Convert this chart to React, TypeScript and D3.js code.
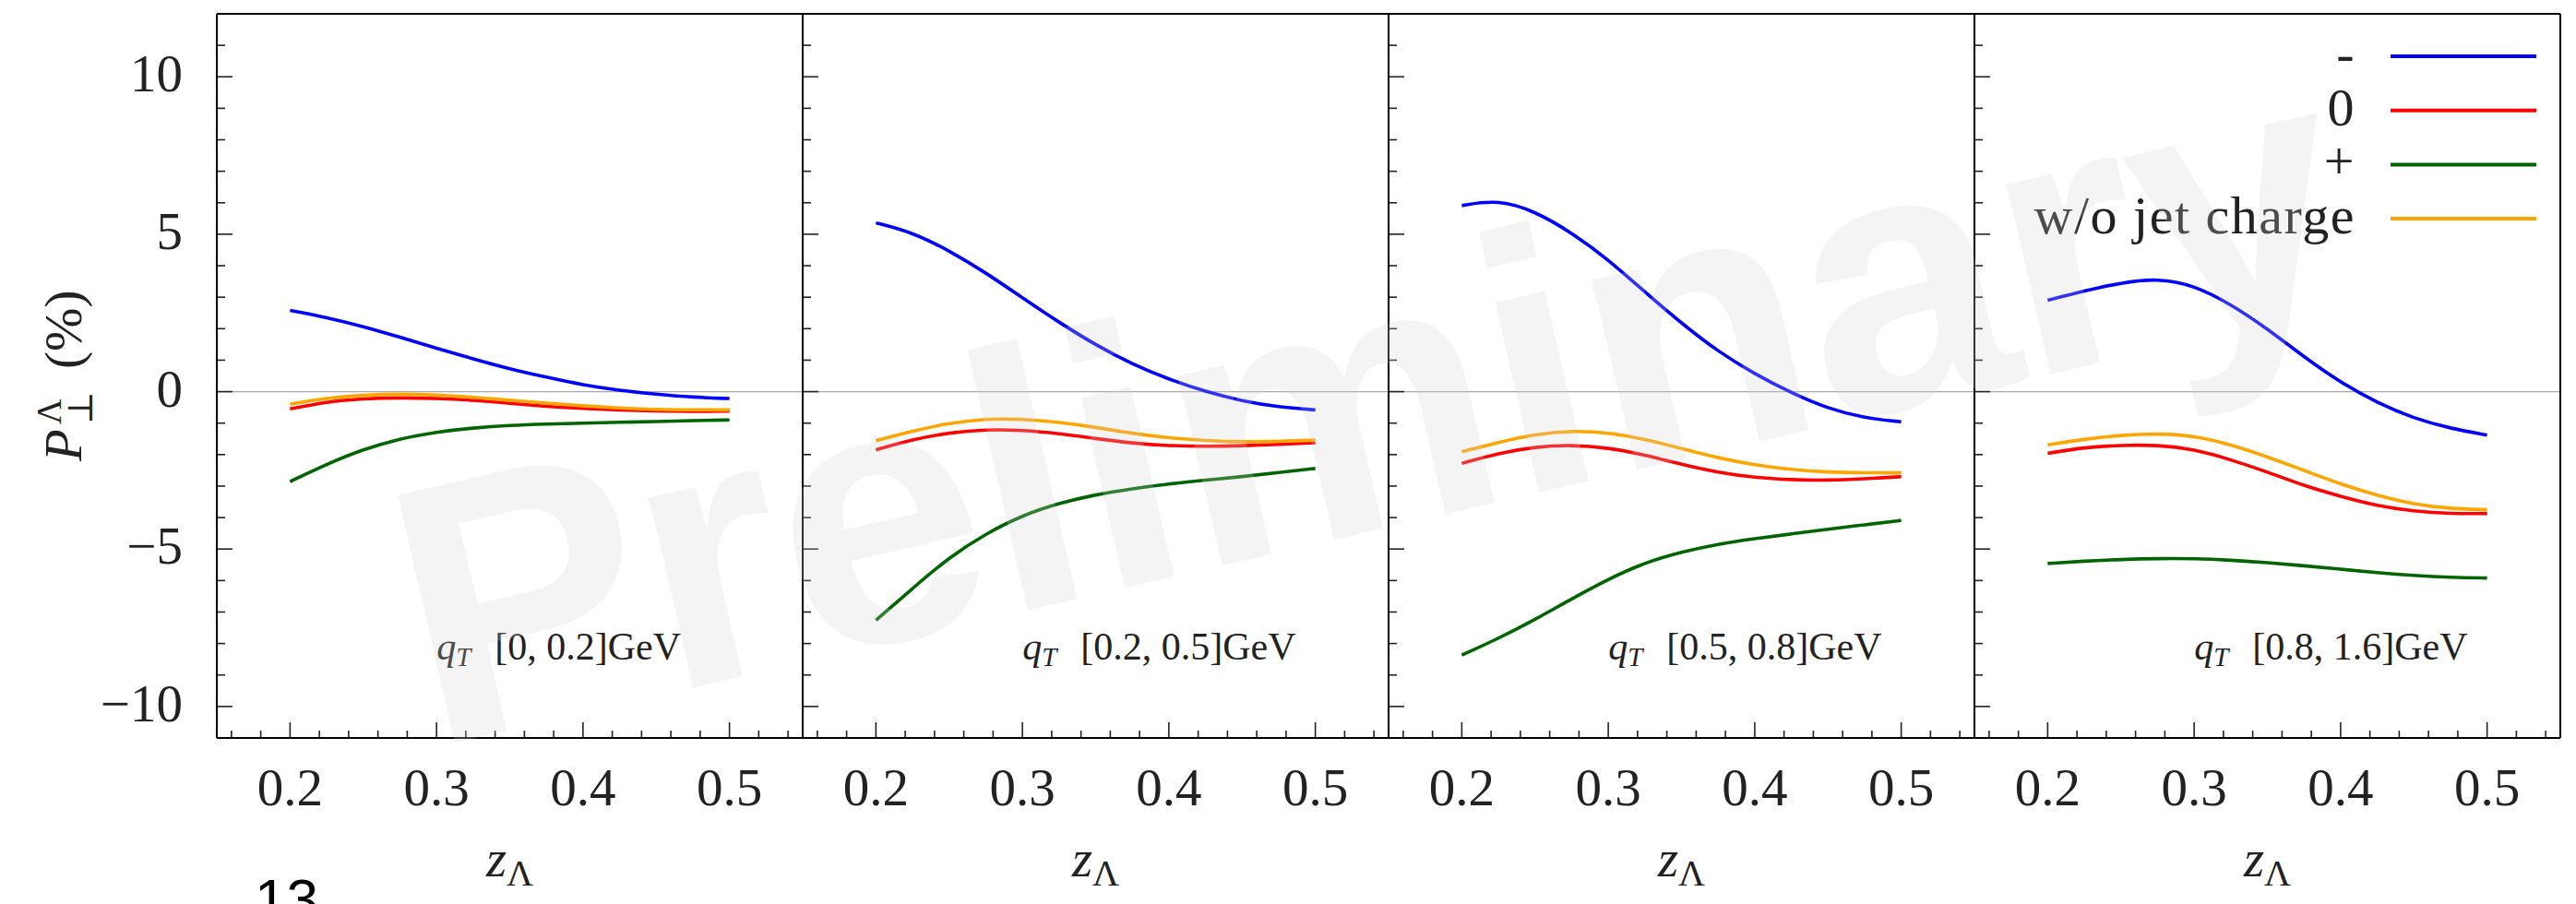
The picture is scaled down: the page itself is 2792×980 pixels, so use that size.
import React from 'react'
import * as d3 from 'd3'

// z_Lambda grid shared by all panels
const zGrid = [0.2, 0.225, 0.25, 0.275, 0.3, 0.325, 0.35, 0.375, 0.4, 0.425, 0.45, 0.475, 0.5]

const qtBins = ['[0, 0.2]', '[0.2, 0.5]', '[0.5, 0.8]', '[0.8, 1.6]']

// jet charge "-"
const negCharge = [
  [2.58, 2.36, 2.07, 1.73, 1.38, 1.04, 0.72, 0.46, 0.21, 0.04, -0.08, -0.18, -0.22],
  [5.36, 5.06, 4.48, 3.78, 2.98, 2.2, 1.48, 0.87, 0.39, 0.0, -0.3, -0.49, -0.58],
  [5.91, 6.1, 5.73, 5.05, 4.2, 3.16, 2.17, 1.27, 0.56, -0.04, -0.54, -0.84, -0.96],
  [2.9, 3.2, 3.46, 3.6, 3.38, 2.78, 2.0, 1.1, 0.29, -0.36, -0.85, -1.17, -1.38],
]
// jet charge "0"
const zeroCharge = [
  [-0.55, -0.32, -0.22, -0.19, -0.21, -0.27, -0.37, -0.47, -0.54, -0.58, -0.62, -0.63, -0.62],
  [-1.85, -1.52, -1.3, -1.2, -1.22, -1.33, -1.49, -1.64, -1.72, -1.74, -1.72, -1.68, -1.62],
  [-2.28, -1.96, -1.75, -1.69, -1.78, -2.01, -2.31, -2.57, -2.73, -2.8, -2.82, -2.77, -2.7],
  [-1.96, -1.77, -1.7, -1.69, -1.83, -2.16, -2.55, -2.99, -3.33, -3.63, -3.8, -3.88, -3.87],
]
// jet charge "+"
const posCharge = [
  [-2.86, -2.3, -1.83, -1.49, -1.28, -1.15, -1.07, -1.03, -1.0, -0.97, -0.95, -0.92, -0.9],
  [-7.26, -6.25, -5.26, -4.51, -3.93, -3.54, -3.27, -3.08, -2.93, -2.81, -2.7, -2.57, -2.44],
  [-8.37, -7.84, -7.24, -6.58, -5.95, -5.43, -5.09, -4.84, -4.67, -4.52, -4.37, -4.23, -4.09],
  [-5.46, -5.38, -5.33, -5.3, -5.3, -5.35, -5.43, -5.53, -5.64, -5.75, -5.84, -5.9, -5.92],
]
// without jet charge
const noJetCharge = [
  [-0.4, -0.2, -0.11, -0.07, -0.1, -0.18, -0.27, -0.37, -0.45, -0.52, -0.57, -0.58, -0.58],
  [-1.56, -1.25, -1.0, -0.86, -0.87, -0.97, -1.13, -1.33, -1.47, -1.56, -1.6, -1.58, -1.54],
  [-1.91, -1.61, -1.35, -1.24, -1.3, -1.51, -1.81, -2.11, -2.33, -2.48, -2.56, -2.58, -2.58],
  [-1.69, -1.51, -1.38, -1.33, -1.4, -1.68, -2.07, -2.5, -2.94, -3.3, -3.58, -3.72, -3.75],
]

const seriesList = [
  { label: '-', color: '#0000ff', values: negCharge },
  { label: '0', color: '#ff0000', values: zeroCharge },
  { label: '+', color: '#006400', values: posCharge },
  { label: 'w/o jet charge', color: '#ffa500', values: noJetCharge },
]

const xTickLabels = [0.2, 0.3, 0.4, 0.5]
const yTickLabels = [-10, -5, 0, 5, 10]

const W = 2792
const H = 980
const left = 235
const top = 15
const bottom = 800
const panelW = 635
const serif = "'Liberation Serif', 'DejaVu Serif', serif"

export default function App() {
  const y = d3.scaleLinear().domain([-11, 12]).range([bottom, top])
  const right = left + panelW * qtBins.length

  const yMinor = d3.range(-10, 12, 1)
  const xMinor = d3.range(0.16, 0.55, 0.02).map(v => +v.toFixed(2))

  return (
    <svg width={W} height={H} style={{ position: 'absolute', left: 0, top: 0, background: '#fff' }}>
      <rect width={W} height={H} fill="#fff" />

      {/* zero line */}
      <line x1={left} x2={right} y1={y(0)} y2={y(0)} stroke="#a8a8a8" strokeWidth={1.3} />

      {qtBins.map((bin, i) => {
        const x0 = left + i * panelW
        const x = d3.scaleLinear().domain([0.15, 0.55]).range([x0, x0 + panelW])
        const line = d3.line<number>()
          .x((_, k) => x(zGrid[k]))
          .y(d => y(d))
          .curve(d3.curveBasis)
        return (
          <g key={bin}>
            {/* left edge ticks */}
            {yMinor.map(v => (
              <line key={'y' + v} x1={x0} x2={x0 + (v % 5 === 0 ? 17 : 9)} y1={y(v)} y2={y(v)}
                stroke="#222" strokeWidth={1.6} />
            ))}
            {xMinor.map(v => {
              const major = Math.abs(v * 10 - Math.round(v * 10)) < 1e-6
              return (
                <line key={'x' + v} x1={x(v)} x2={x(v)} y1={bottom} y2={bottom - (major ? 17 : 8)}
                  stroke="#222" strokeWidth={1.6} />
              )
            })}
            {xTickLabels.map(v => (
              <text key={'xl' + v} x={x(v)} y={873} textAnchor="middle" fontFamily={serif}
                fontSize={57} fill="#222">{v.toFixed(1)}</text>
            ))}
            <text x={x0 + panelW / 2} y={950} textAnchor="middle" fontFamily={serif} fontSize={57} fill="#222">
              <tspan fontStyle="italic">z</tspan>
              <tspan fontSize={40} dy={10}>Λ</tspan>
            </text>

            {seriesList.map(s => (
              <path key={s.label} d={line(s.values[i]) || ''} fill="none" stroke={s.color}
                strokeWidth={3.6} />
            ))}

            <text x={x(0.3)} y={y(-8.5)} fontFamily={serif} fontSize={42} fill="#222">
              <tspan fontStyle="italic">q</tspan>
              <tspan fontStyle="italic" fontSize={29} dy={7}>T</tspan>
              <tspan dy={-7} dx={26}>{bin}GeV</tspan>
            </text>

            <line x1={x0} x2={x0} y1={top} y2={bottom} stroke="#000" strokeWidth={2} />
          </g>
        )
      })}

      {/* outer frame */}
      <line x1={right} x2={right} y1={top} y2={bottom} stroke="#000" strokeWidth={2} />
      <line x1={left} x2={right} y1={top} y2={top} stroke="#000" strokeWidth={2} />
      <line x1={left} x2={right} y1={bottom} y2={bottom} stroke="#000" strokeWidth={2} />

      {/* y tick labels */}
      {yTickLabels.map(v => (
        <text key={v} x={198} y={y(v) + 16} textAnchor="end" fontFamily={serif} fontSize={57} fill="#222">
          {v < 0 ? '\u2212' + Math.abs(v) : v}
        </text>
      ))}

      {/* y axis title */}
      <g transform="translate(88,500) rotate(-90)" fontFamily={serif} fill="#222">
        <text x={0} y={0} fontSize={57} fontStyle="italic">P</text>
        <text x={40} y={-22} fontSize={38}>Λ</text>
        <text x={40} y={12} fontSize={38}>⊥</text>
        <text x={100} y={0} fontSize={57}>(%)</text>
      </g>

      {/* legend */}
      {seriesList.map((s, k) => {
        const ly = 61 + k * 58.7
        return (
          <g key={'lg' + s.label}>
            <text x={2553} y={ly + 16} textAnchor="end" fontFamily={serif} fontSize={58}
              letterSpacing={1.5} fill="#222">
              {s.label}
            </text>
            <line x1={2591} x2={2749} y1={ly} y2={ly} stroke={s.color} strokeWidth={4} />
          </g>
        )
      })}

      <text x={276} y={996} fontFamily="'Liberation Sans', Arial, sans-serif" fontSize={62} fill="#000">13</text>

      {/* watermark */}
      <text transform="translate(467,811) rotate(-13)" fontFamily="'Liberation Sans', Arial, sans-serif"
        fontWeight="bold" fontSize={400} letterSpacing={-3} fill="#d0d0d0" fillOpacity={0.24}>Preliminary</text>
    </svg>
  )
}
